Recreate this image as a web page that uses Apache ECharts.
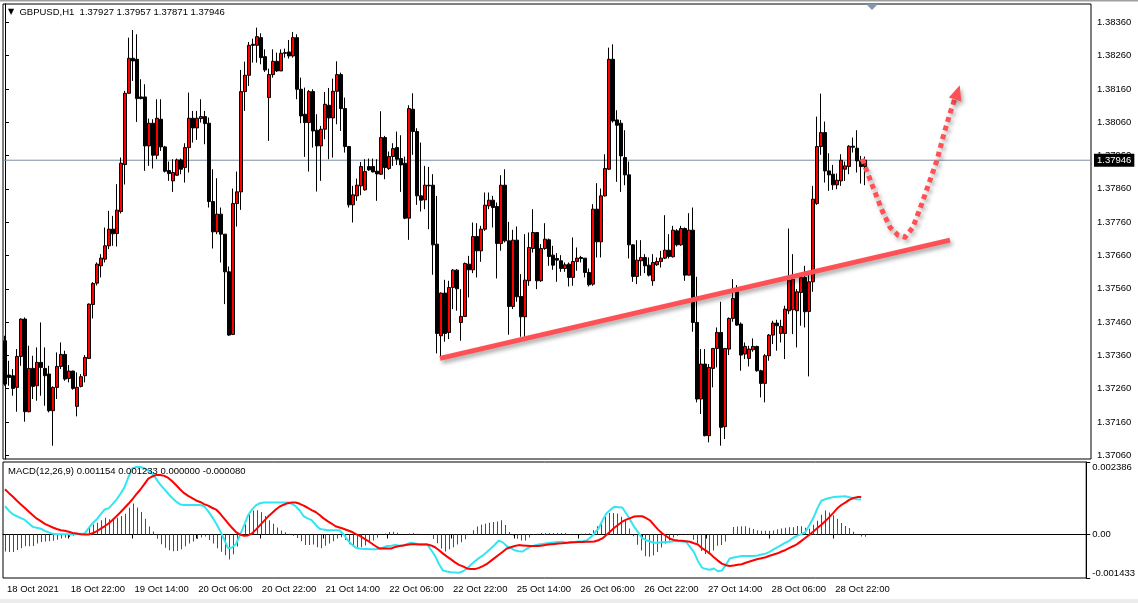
<!DOCTYPE html>
<html><head><meta charset="utf-8">
<script src="https://cdn.jsdelivr.net/npm/echarts@6/dist/echarts.min.js"></script>
<style>html,body{margin:0;padding:0;background:#fff}#c{width:1138px;height:603px}</style>
</head><body><div id="c"></div>
<script>
const tickLabels = ['18 Oct 2021','18 Oct 22:00','19 Oct 14:00','20 Oct 06:00','20 Oct 22:00','21 Oct 14:00','22 Oct 06:00','22 Oct 22:00','25 Oct 14:00','26 Oct 06:00','26 Oct 22:00','27 Oct 14:00','28 Oct 06:00','28 Oct 22:00'];
const priceTicks = [1.3706,1.3716,1.3726,1.3736,1.3746,1.3756,1.3766,1.3776,1.3786,1.3796,1.3806,1.3816,1.3826,1.3836];
const macdTicks = [-0.001433, 0, 0.002386];
const lastPrice = 1.37946;

const open = [1.37404,1.37301,1.37299,1.37264,1.37357,1.37469,1.37191,1.37321,1.37269,1.37339,
1.37321,1.37304,1.37194,1.37264,1.37327,1.37363,1.37291,1.37313,1.37207,1.37267,
1.37299,1.37351,1.37513,1.37577,1.37629,1.37649,1.37689,1.37739,1.37726,1.37792,
1.37933,1.38147,1.38252,1.38249,1.38136,1.38136,1.37989,1.38057,1.37961,1.38069,
1.37986,1.37915,1.37884,1.37901,1.37947,1.37924,1.37984,1.38072,1.38043,1.38071,
1.38077,1.38057,1.37822,1.37731,1.37784,1.37724,1.37611,1.37423,1.37816,1.37851,
1.38152,1.38201,1.38294,1.38291,1.38314,1.38257,1.38134,1.38203,1.38243,1.38214,
1.38269,1.38271,1.38259,1.38314,1.38159,1.38084,1.38059,1.38152,1.38036,1.37989,
1.38039,1.38111,1.38073,1.38153,1.38203,1.38101,1.37987,1.37812,1.37839,1.37869,
1.37857,1.37927,1.37927,1.37913,1.37904,1.38014,1.37921,1.37957,1.37984,1.37951,
1.37937,1.37772,1.38099,1.38032,1.37839,1.37827,1.37871,1.37871,1.37694,1.37419,
1.37547,1.37429,1.37564,1.37616,1.37459,1.37477,1.37634,1.37617,1.37717,1.37674,
1.37739,1.37809,1.37826,1.37807,1.37696,1.37871,1.37704,1.37507,1.37706,1.37537,
1.37476,1.37584,1.37681,1.37729,1.37584,1.37681,1.37707,1.37661,1.37651,1.37644,
1.37621,1.37634,1.37594,1.37642,1.37654,1.37652,1.37609,1.37574,1.37799,1.37701,
1.37839,1.37919,1.38249,1.38067,1.38057,1.37954,1.37902,1.37692,1.37597,1.37644,
1.37654,1.37631,1.37584,1.37632,1.37642,1.37652,1.37676,1.37656,1.37734,1.37692,
1.37741,1.37601,1.37736,1.37459,1.37229,1.37334,1.37119,1.37321,1.37381,1.37429,
1.37146,1.37379,1.37471,1.37551,1.37454,1.37364,1.37351,1.37377,1.37387,1.37314,
1.37276,1.37359,1.37421,1.37457,1.37426,1.37426,1.37494,1.37497,1.37494,1.37549,
1.37594,1.37492,1.37581,1.37816,1.37987,1.38029,1.37914,1.37904,1.37872,1.37884,
1.37919,1.37927,1.37988,1.37982,1.37944,1.37927];

const high = [1.37419,1.37344,1.37319,1.37379,1.37471,1.37474,1.37389,1.37359,1.37384,1.37459,
1.37384,1.37329,1.37267,1.37369,1.37399,1.37374,1.37331,1.37314,1.37309,1.37304,
1.37361,1.37516,1.37580,1.37639,1.37664,1.37744,1.37794,1.37779,1.37874,1.37954,
1.38154,1.38314,1.38337,1.38324,1.38189,1.38174,1.38071,1.38069,1.38129,1.38129,
1.37989,1.37942,1.37949,1.37951,1.37951,1.37997,1.38149,1.38094,1.38094,1.38129,
1.38094,1.38074,1.37919,1.37892,1.37804,1.37724,1.37627,1.37861,1.37912,1.38217,
1.38242,1.38301,1.38311,1.38344,1.38327,1.38279,1.38221,1.38279,1.38269,1.38279,
1.38281,1.38307,1.38331,1.38324,1.38194,1.38164,1.38157,1.38159,1.38084,1.38049,
1.38151,1.38163,1.38191,1.38243,1.38209,1.38134,1.37989,1.37869,1.37891,1.37941,
1.37949,1.37951,1.37951,1.37949,1.38093,1.38019,1.37972,1.37997,1.38032,1.38021,
1.37957,1.38111,1.38147,1.38042,1.37999,1.37929,1.37926,1.37904,1.37839,1.37549,
1.37587,1.37584,1.37619,1.37619,1.37559,1.37639,1.37659,1.37759,1.37757,1.37749,
1.37849,1.37849,1.37839,1.37819,1.37901,1.37919,1.37761,1.37737,1.37747,1.37604,
1.37724,1.37729,1.37799,1.37729,1.37694,1.37757,1.37711,1.37689,1.37667,1.37661,
1.37639,1.37639,1.37714,1.37684,1.37659,1.37652,1.37621,1.37814,1.37877,1.37861,
1.37964,1.38284,1.38294,1.38096,1.38067,1.38036,1.37942,1.37694,1.37706,1.37706,
1.37664,1.37654,1.37664,1.37654,1.37674,1.37781,1.37724,1.37749,1.37739,1.37749,
1.37744,1.37787,1.37804,1.37596,1.37379,1.37379,1.37334,1.37381,1.37444,1.37521,
1.37381,1.37474,1.37589,1.37571,1.37459,1.37399,1.37389,1.37411,1.37389,1.37317,
1.37364,1.37424,1.37464,1.37467,1.37467,1.37509,1.37741,1.37664,1.37559,1.37604,
1.37629,1.37609,1.37869,1.38077,1.38146,1.38062,1.37967,1.37932,1.37906,1.37964,
1.37942,1.37991,1.38014,1.38036,1.37959,1.37957];

const low = [1.37269,1.37269,1.37239,1.37191,1.37329,1.37161,1.37189,1.37229,1.37224,1.37239,
1.37209,1.37189,1.37089,1.37229,1.37319,1.37284,1.37279,1.37257,1.37177,1.37264,
1.37279,1.37349,1.37471,1.37570,1.37594,1.37639,1.37679,1.37689,1.37687,1.37786,
1.37873,1.38147,1.38184,1.38061,1.38129,1.37914,1.37929,1.37921,1.37949,1.37974,
1.37909,1.37884,1.37851,1.37899,1.37904,1.37879,1.37909,1.37999,1.38007,1.38059,
1.37994,1.37804,1.37681,1.37724,1.37639,1.37514,1.37419,1.37421,1.37747,1.37797,
1.38094,1.38169,1.38239,1.38239,1.38234,1.38211,1.38004,1.38194,1.38211,1.38214,
1.38254,1.38251,1.38254,1.38129,1.38057,1.37956,1.37912,1.37984,1.37852,1.37884,
1.38009,1.37949,1.37954,1.38054,1.38034,1.37969,1.37804,1.37759,1.37824,1.37841,
1.37855,1.37914,1.37909,1.37824,1.37902,1.37889,1.37917,1.37929,1.37932,1.37851,
1.37769,1.37707,1.37962,1.37812,1.37792,1.37799,1.37739,1.37602,1.37366,1.37354,
1.37401,1.37409,1.37499,1.37494,1.37404,1.37477,1.37534,1.37607,1.37594,1.37641,
1.37734,1.37799,1.37744,1.37591,1.37674,1.37699,1.37422,1.37499,1.37521,1.37416,
1.37416,1.37569,1.37669,1.37559,1.37581,1.37677,1.37629,1.37617,1.37581,1.37611,
1.37611,1.37567,1.37569,1.37614,1.37639,1.37594,1.37567,1.37569,1.37654,1.37654,
1.37837,1.37917,1.38059,1.37881,1.37851,1.37871,1.37651,1.37581,1.37574,1.37599,
1.37607,1.37597,1.37569,1.37629,1.37624,1.37649,1.37651,1.37654,1.37687,1.37689,
1.37584,1.37601,1.37431,1.37219,1.37184,1.37117,1.37099,1.37264,1.37324,1.37089,
1.37109,1.37361,1.37461,1.37449,1.37314,1.37349,1.37327,1.37371,1.37311,1.37234,
1.37219,1.37344,1.37394,1.37374,1.37399,1.37349,1.37484,1.37424,1.37384,1.37449,
1.37444,1.37297,1.37551,1.37812,1.37962,1.37879,1.37854,1.37857,1.37859,1.37869,
1.37884,1.37904,1.37969,1.37909,1.37876,1.37871];

const close = [1.37274,1.37294,1.37261,1.37357,1.37469,1.37191,1.37321,1.37267,1.37339,1.37324,
1.37299,1.37194,1.37264,1.37327,1.37363,1.37289,1.37313,1.37261,1.37264,1.37296,
1.37354,1.37514,1.37576,1.37634,1.37652,1.37689,1.37739,1.37725,1.37796,1.37937,
1.38147,1.38252,1.38244,1.38131,1.38131,1.37989,1.38057,1.37961,1.38072,1.37986,
1.37913,1.37906,1.37909,1.37947,1.37919,1.37984,1.38072,1.38043,1.38072,1.38077,
1.38056,1.37822,1.37731,1.37784,1.37724,1.37611,1.37421,1.37816,1.37851,1.38152,
1.38201,1.38291,1.38291,1.38317,1.38254,1.38217,1.38203,1.38243,1.38214,1.38267,
1.38267,1.38259,1.38314,1.38159,1.38079,1.38059,1.38152,1.38034,1.37989,1.38039,
1.38114,1.38073,1.38153,1.38203,1.38101,1.37987,1.37812,1.37842,1.37871,1.37927,
1.37912,1.37917,1.37911,1.37905,1.38014,1.37924,1.37957,1.37981,1.37949,1.37932,
1.37772,1.38101,1.38032,1.37839,1.37826,1.37871,1.37869,1.37692,1.37426,1.37547,
1.37426,1.37564,1.37616,1.37560,1.37477,1.37636,1.37617,1.37717,1.37674,1.37739,
1.37811,1.37826,1.37804,1.37696,1.37871,1.37704,1.37507,1.37706,1.37536,1.37476,
1.37586,1.37684,1.37729,1.37584,1.37681,1.37709,1.37657,1.37631,1.37646,1.37621,
1.37632,1.37594,1.37642,1.37652,1.37651,1.37609,1.37572,1.37799,1.37701,1.37839,
1.37921,1.38249,1.38064,1.38051,1.37959,1.37902,1.37692,1.37597,1.37646,1.37654,
1.37629,1.37601,1.37639,1.37642,1.37652,1.37676,1.37657,1.37736,1.37692,1.37741,
1.37601,1.37736,1.37459,1.37229,1.37334,1.37119,1.37324,1.37381,1.37429,1.37144,
1.37381,1.37471,1.37531,1.37451,1.37361,1.37387,1.37379,1.37387,1.37314,1.37276,
1.37359,1.37421,1.37457,1.37449,1.37447,1.37499,1.37586,1.37589,1.37551,1.37594,
1.37491,1.37581,1.37829,1.37987,1.38029,1.37914,1.37902,1.37872,1.37886,1.37946,
1.37929,1.37988,1.37985,1.37944,1.37927,1.37946];

const macdLine = [0.00093,0.00078,0.00066,0.00060,0.00054,0.00048,0.00036,0.00025,0.00022,0.00019,
0.00012,0.00007,0.00002,0.00001,0.00001,0.00001,0.00001,0.00001,0.00001,0.00002,
0.00003,0.00021,0.00037,0.00049,0.00066,0.00082,0.00086,0.00100,0.00115,0.00134,
0.00155,0.00189,0.00218,0.00222,0.00222,0.00218,0.00210,0.00201,0.00182,0.00164,
0.00149,0.00134,0.00120,0.00108,0.00099,0.00097,0.00097,0.00097,0.00097,0.00097,
0.00093,0.00077,0.00058,0.00037,0.00012,-0.00015,-0.00045,-0.00043,-0.00032,-0.00002,
0.00029,0.00062,0.00082,0.00096,0.00103,0.00105,0.00105,0.00105,0.00105,0.00105,
0.00105,0.00105,0.00101,0.00093,0.00079,0.00060,0.00053,0.00047,0.00032,0.00019,
0.00016,0.00014,0.00014,0.00014,0.00014,0.00001,-0.00018,-0.00032,-0.00043,-0.00046,
-0.00048,-0.00048,-0.00049,-0.00049,-0.00047,-0.00043,-0.00038,-0.00037,-0.00035,-0.00037,
-0.00037,-0.00031,-0.00027,-0.00030,-0.00032,-0.00032,-0.00032,-0.00051,-0.00071,-0.00098,
-0.00119,-0.00122,-0.00124,-0.00125,-0.00126,-0.00121,-0.00112,-0.00100,-0.00088,-0.00078,
-0.00069,-0.00058,-0.00046,-0.00034,-0.00020,-0.00026,-0.00038,-0.00045,-0.00052,-0.00055,
-0.00056,-0.00047,-0.00040,-0.00036,-0.00033,-0.00031,-0.00029,-0.00027,-0.00026,-0.00025,
-0.00024,-0.00029,-0.00027,-0.00025,-0.00023,-0.00022,-0.00020,-0.00010,0.00004,0.00019,
0.00045,0.00069,0.00081,0.00091,0.00090,0.00089,0.00069,0.00048,0.00025,0.00007,
-0.00012,-0.00019,-0.00023,-0.00027,-0.00027,-0.00026,-0.00025,-0.00024,-0.00022,-0.00022,
-0.00023,-0.00024,-0.00041,-0.00058,-0.00087,-0.00109,-0.00114,-0.00116,-0.00112,-0.00121,
-0.00119,-0.00100,-0.00079,-0.00076,-0.00073,-0.00071,-0.00071,-0.00071,-0.00071,-0.00069,
-0.00066,-0.00063,-0.00057,-0.00049,-0.00042,-0.00034,-0.00027,-0.00020,-0.00010,-0.00004,
0.00001,0.00008,0.00031,0.00055,0.00086,0.00111,0.00116,0.00120,0.00123,0.00124,
0.00125,0.00126,0.00123,0.00119,0.00116,0.001154];

const signalLine = [0.00149,0.00136,0.00124,0.00111,0.00099,0.00087,0.00075,0.00063,0.00052,0.00044,
0.00035,0.00029,0.00023,0.00018,0.00014,0.00012,0.00009,0.00005,0.00003,0.00001,
0,0,0.00004,0.00010,0.00019,0.00027,0.00036,0.00048,0.00060,0.00073,
0.00087,0.00101,0.00116,0.00133,0.00148,0.00166,0.00184,0.00191,0.00196,0.00196,
0.00193,0.00186,0.00175,0.00162,0.00148,0.00136,0.00127,0.00120,0.00112,0.00107,
0.00100,0.00095,0.00088,0.00082,0.00069,0.00053,0.00037,0.00022,0.00008,0,
-0.00004,-0.00003,0.00003,0.00016,0.00030,0.00044,0.00058,0.00070,0.00082,0.00092,
0.00098,0.00103,0.00105,0.00105,0.00101,0.00095,0.00088,0.00080,0.00074,0.00064,
0.00053,0.00044,0.00036,0.00027,0.00023,0.00019,0.00014,0.00009,0.00002,-0.00004,
-0.00012,-0.00020,-0.00029,-0.00038,-0.00046,-0.00046,-0.00046,-0.00046,-0.00041,-0.00038,
-0.00036,-0.00034,-0.00032,-0.00032,-0.00033,-0.00033,-0.00033,-0.00036,-0.00042,-0.00052,
-0.00063,-0.00073,-0.00082,-0.00092,-0.00100,-0.00105,-0.00112,-0.00114,-0.00114,-0.00110,
-0.00104,-0.00097,-0.00087,-0.00077,-0.00067,-0.00057,-0.00046,-0.00042,-0.00038,-0.00035,
-0.00036,-0.00037,-0.00038,-0.00038,-0.00038,-0.00036,-0.00034,-0.00032,-0.00031,-0.00030,
-0.00029,-0.00027,-0.00026,-0.00026,-0.00025,-0.00025,-0.00024,-0.00024,-0.00023,-0.00019,
-0.00013,-0.00002,0.00010,0.00022,0.00032,0.00042,0.00049,0.00054,0.00059,0.00060,
0.00060,0.00054,0.00046,0.00031,0.00016,0.00004,-0.00005,-0.00014,-0.00018,-0.00020,
-0.00021,-0.00022,-0.00024,-0.00029,-0.00033,-0.00045,-0.00053,-0.00063,-0.00075,-0.00086,
-0.00096,-0.00101,-0.00104,-0.00102,-0.00100,-0.00098,-0.00093,-0.00089,-0.00085,-0.00081,
-0.00078,-0.00075,-0.00070,-0.00066,-0.00062,-0.00056,-0.00051,-0.00044,-0.00038,-0.00031,
-0.00021,-0.00011,-0.00001,0.00010,0.00021,0.00032,0.00044,0.00057,0.00071,0.00086,
0.00097,0.00105,0.00114,0.00120,0.00123,0.001233];

// drawn annotations, in (bar index, price)
const trendLine = [[108.75,1.37351],[236.25,1.37706]];
const arrowPath = [[214.3,1.37950],[217,1.37865],[219.25,1.37796],[221.25,1.37745],[223.25,1.37721],[225,1.37715],[227,1.37745],[229.25,1.37817],[231.25,1.37886],[233,1.37946],[234.5,1.38015],[236.25,1.38087],[237.4,1.38128]];
const arrowHead = [238.1, 1.38150];

const SLOTS = 272;
const slots = Array.from({length: SLOTS}, (_, i) => String(i));
const candles = open.map((o, i) => [o, close[i], low[i], high[i]]);
const hist = macdLine.map((m, i) => +(m - signalLine[i]).toFixed(6));

const FONT = "'Liberation Sans', Arial, 'DejaVu Sans', sans-serif";
const labelEvery = (idx) => idx % 16 === 0 && idx / 16 < tickLabels.length;
const RED = '#ff5055';
const SHADOW = {shadowColor: 'rgba(0,0,0,0.35)', shadowBlur: 4, shadowOffsetX: 2, shadowOffsetY: 3};

const chart = echarts.init(document.getElementById('c'), null, {renderer: 'canvas'});
chart.setOption({
  animation: false,
  backgroundColor: '#ffffff',
  textStyle: {fontFamily: FONT},
  title: [
    {text: '{a|▼}  GBPUSD,H1  1.37927 1.37957 1.37871 1.37946', left: 8, top: 7, padding: 0,
     textStyle: {fontSize: 9.5, fontWeight: 'normal', color: '#000', fontFamily: FONT,
       rich: {a: {fontSize: 8, color: '#000', fontFamily: "'DejaVu Sans', sans-serif"}}}},
    {text: 'MACD(12,26,9) 0.001154 0.001233 0.000000 -0.000080', left: 8, top: 466, padding: 0,
     textStyle: {fontSize: 9.5, fontWeight: 'normal', color: '#000', fontFamily: FONT}}
  ],
  graphic: [
    {type: 'rect', shape: {x: 0, y: 0, width: 1138, height: 1.5}, style: {fill: '#a0a0a0'}, silent: true},
    {type: 'rect', shape: {x: 0, y: 599, width: 1138, height: 4}, style: {fill: '#ececec'}, silent: true},
    {type: 'polygon', shape: {points: [[866, 4], [878, 4], [872, 10]]}, style: {fill: '#8597aa'}, silent: true, z: 100}
  ],
  grid: [
    {left: 3, top: 4, width: 1088, height: 455, show: true, borderColor: '#000', borderWidth: 1, backgroundColor: '#fff'},
    {left: 3, top: 462, width: 1088, height: 116, show: true, borderColor: '#000', borderWidth: 1, backgroundColor: '#fff'},
    {left: 3.5, top: 462, width: 1088, height: 116, show: false}
  ],
  xAxis: [
    {type: 'category', gridIndex: 0, data: slots, boundaryGap: true,
     axisLine: {show: false}, axisTick: {show: false}, axisLabel: {show: false}, splitLine: {show: false}},
    {type: 'category', gridIndex: 1, data: slots, boundaryGap: true,
     axisLine: {show: true, lineStyle: {color: '#000', width: 1}},
     axisTick: {show: true, alignWithLabel: true, interval: labelEvery, length: 4, lineStyle: {color: '#000'}},
     axisLabel: {show: true, interval: labelEvery, formatter: (v, idx) => tickLabels[idx / 16] || '',
       align: 'left', padding: [0, 0, 0, 2], margin: 6, fontSize: 9.5, color: '#000', fontFamily: FONT},
     splitLine: {show: false}},
    {type: 'value', gridIndex: 0, min: -0.5, max: SLOTS - 0.5, show: false},
    {type: 'category', gridIndex: 2, data: slots, boundaryGap: true, show: false}
  ],
  yAxis: [
    {type: 'value', gridIndex: 0, position: 'right', min: 1.37049, max: 1.38415, scale: true,
     splitLine: {show: false},
     axisLine: {show: true, lineStyle: {color: '#000'}},
     axisTick: {show: true, customValues: priceTicks, length: 4, lineStyle: {color: '#000'}},
     axisLabel: {show: true, customValues: priceTicks, formatter: v => v.toFixed(5), margin: 6,
       fontSize: 9.5, color: '#000', fontFamily: FONT}},
    {type: 'value', gridIndex: 1, position: 'right', min: -0.001433, max: 0.002386, scale: true,
     splitLine: {show: false},
     axisLine: {show: true, lineStyle: {color: '#000'}},
     axisTick: {show: true, customValues: macdTicks, length: 4, lineStyle: {color: '#000'}},
     axisLabel: {show: true, customValues: macdTicks, formatter: v => (v === 0 ? '0.00' : v.toFixed(6)), margin: 6,
       verticalAlignMaxLabel: 'top', verticalAlignMinLabel: 'bottom',
       fontSize: 9.5, color: '#000', fontFamily: FONT}},
    {type: 'value', gridIndex: 2, min: -0.001433, max: 0.002386, scale: true, show: false}
  ],
  series: [
    {type: 'line', xAxisIndex: 2, yAxisIndex: 0, silent: true, symbol: 'none', z: 1,
     data: [[-0.5, lastPrice], [SLOTS - 0.5, lastPrice]],
     lineStyle: {color: '#7a8ea2', width: 1},
     endLabel: {show: true, formatter: () => lastPrice.toFixed(5), backgroundColor: '#000', color: '#fff',
       padding: [2, 3, 1, 3], fontSize: 9.5, fontFamily: FONT, distance: 3}},
    {type: 'candlestick', xAxisIndex: 0, yAxisIndex: 0, data: candles, barWidth: 3, z: 2,
     itemStyle: {color: '#ff0000', color0: '#000000', borderColor: '#000000', borderColor0: '#000000', borderWidth: 1}},
    {type: 'lines', coordinateSystem: 'cartesian2d', xAxisIndex: 2, yAxisIndex: 0, silent: true,
     data: [{coords: trendLine}],
     lineStyle: Object.assign({color: RED, width: 5, opacity: 1, cap: 'butt'}, SHADOW), z: 5},
    {type: 'lines', coordinateSystem: 'cartesian2d', xAxisIndex: 2, yAxisIndex: 0, silent: true, polyline: true,
     data: [{coords: arrowPath}],
     lineStyle: Object.assign({color: RED, width: 5, opacity: 1, type: [5, 4], cap: 'butt'}, SHADOW), z: 5},
    {type: 'scatter', xAxisIndex: 2, yAxisIndex: 0, silent: true, data: [arrowHead],
     symbol: 'triangle', symbolSize: [13, 15], symbolRotate: -18,
     itemStyle: Object.assign({color: RED, opacity: 1}, SHADOW), z: 6},
    {type: 'bar', xAxisIndex: 3, yAxisIndex: 2, data: hist, barWidth: 1, silent: true,
     itemStyle: {color: p => (p.value >= 0 ? '#008000' : '#ff0000')}},
    {type: 'line', xAxisIndex: 1, yAxisIndex: 1, data: macdLine, symbol: 'none', silent: true, z: 3,
     lineStyle: {color: '#33e5f2', width: 2}},
    {type: 'line', xAxisIndex: 1, yAxisIndex: 1, data: signalLine, symbol: 'none', silent: true, z: 3,
     lineStyle: {color: '#ff0000', width: 2}}
  ]
});
</script>
</body></html>
